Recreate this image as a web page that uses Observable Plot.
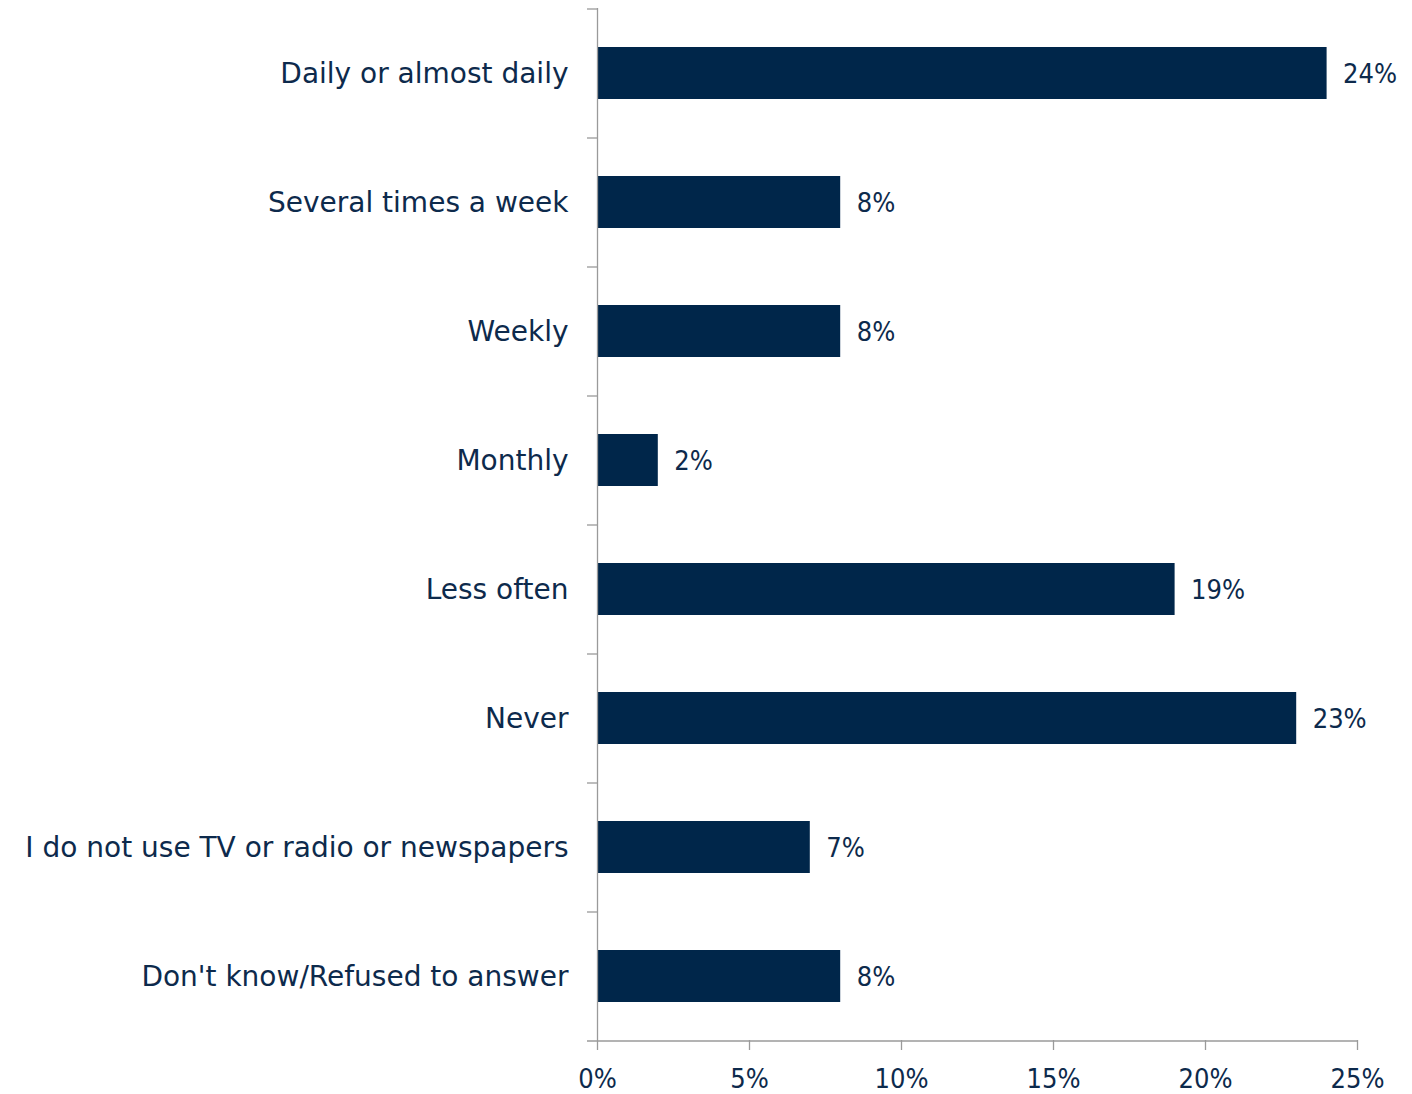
<!DOCTYPE html>
<html>
<head>
<meta charset="utf-8">
<script src="https://cdn.jsdelivr.net/npm/d3@7"></script>
<script src="https://cdn.jsdelivr.net/npm/@observablehq/plot@0.6"></script>
<style>
  html, body { margin: 0; padding: 0; background: #ffffff; }
  #chart svg { display: block; }
</style>
</head>
<body>
<div id="chart"></div>
<script>
const categories = [
  "Daily or almost daily",
  "Several times a week",
  "Weekly",
  "Monthly",
  "Less often",
  "Never",
  "I do not use TV or radio or newspapers",
  "Don't know/Refused to answer"
];
const values = [24, 8, 8, 2, 19, 23, 7, 8];
const xTicks = [0, 5, 10, 15, 20, 25];

const data = categories.map((c, i) => ({cat: c, value: values[i]}));

const W = 1412, H = 1094;
const mTop = 8, mBottom = 54, mLeft = 597, mRight = 55;
const step = (H - mTop - mBottom) / categories.length;
const navy = "#00264a";
const textNavy = "#0d2a4c";
const gray = "#9a9a9a";
const fontNum = "'DejaVu Sans Condensed', 'DejaVu Sans', sans-serif";
const fontLabel = "'DejaVu Sans', sans-serif";

const chart = Plot.plot({
  width: W,
  height: H,
  marginTop: mTop,
  marginBottom: mBottom,
  marginLeft: mLeft,
  marginRight: mRight,
  x: {domain: [0, 25], ticks: xTicks},
  y: {domain: categories, paddingInner: 0.6, paddingOuter: 0.3},
  style: {fontFamily: fontNum, fontSize: "28px", color: textNavy, background: "#ffffff"},
  marks: [
    Plot.barX(data, {x: "value", y: "cat", fill: navy}),
    Plot.text(data, {
      x: "value", y: "cat", text: d => d.value + "%",
      textAnchor: "start", dx: 16, fill: textNavy, fontSize: 27, dy: 1
    }),
    Plot.ruleX([0], {stroke: gray, strokeWidth: 1.3}),
    Plot.ruleY(categories, {
      y: d => d, x1: () => 0, x2: () => 0, insetLeft: -10,
      dy: -step / 2, stroke: gray, strokeWidth: 1.3
    }),
    Plot.ruleY([categories[categories.length - 1]], {
      y: d => d, x1: () => 0, x2: () => 25, insetLeft: -10,
      dy: step / 2, stroke: gray, strokeWidth: 1.3
    }),
    Plot.axisX({
      ticks: xTicks, tickSize: 10, tickPadding: 18,
      tickFormat: d => d + "%", stroke: gray, strokeWidth: 1.3,
      fill: textNavy, fontSize: 27, label: null
    }),
    Plot.axisY({
      tickSize: 0, tickPadding: 29, fill: textNavy, fontSize: 28,
      fontFamily: fontLabel, dy: 1, label: null
    })
  ]
});

document.getElementById("chart").appendChild(chart);
</script>
</body>
</html>
